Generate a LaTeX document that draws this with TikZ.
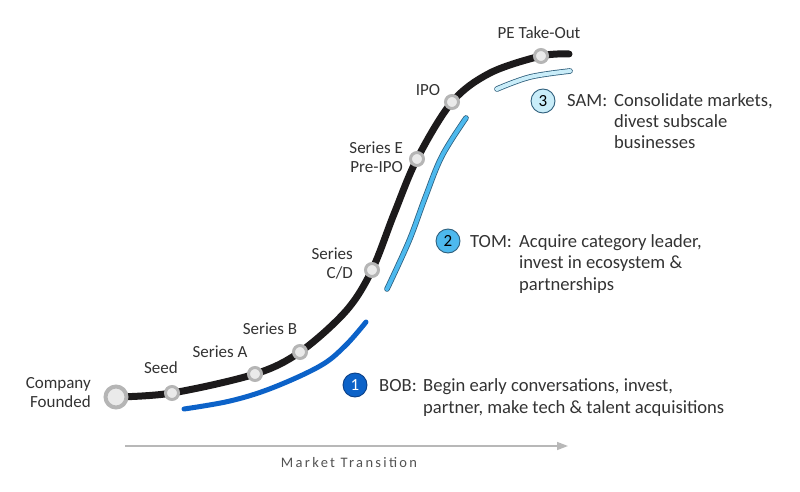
\documentclass[tikz,border=0pt]{standalone}
\usepackage{fontspec}
\setmainfont{Carlito}
\newfontfamily\mtfont[LetterSpace=16]{Carlito}
\usetikzlibrary{arrows.meta}
\definecolor{txt}{HTML}{333333}
\definecolor{ring}{HTML}{B5B5B5}
\definecolor{ringfill}{HTML}{EAEAEA}
\definecolor{curveblack}{HTML}{1C1A1B}
\definecolor{bobblue}{HTML}{0C62C8}
\definecolor{bobedge}{HTML}{0A3F86}
\definecolor{tomblue}{HTML}{4DB9EE}
\definecolor{samblue}{HTML}{C9EDF9}
\definecolor{edgeblue}{HTML}{2F5F7C}
\definecolor{axisgray}{HTML}{B8B8B8}
\tikzset{
  stop/.style={circle, draw=ring, fill=ringfill, line width=3pt, minimum size=13pt, inner sep=0pt},
  bigstop/.style={circle, draw=ring, fill=ringfill, line width=4pt, minimum size=21pt, inner sep=0pt},
  lbl/.style={text=txt, font=\fontsize{17}{19}\selectfont, inner sep=0pt, align=center},
  rlbl/.style={lbl, align=right, anchor=east},
  numc/.style={circle, minimum size=24pt, inner sep=0pt, line width=0.9pt, font=\fontsize{17}{19}\selectfont},
  head/.style={text=txt, font=\fontsize{18.6}{22}\selectfont, inner sep=0pt, anchor=base west},
  body/.style={head},
}
\begin{document}
\begin{tikzpicture}[x=1pt, y=-1pt]
\useasboundingbox (0,0) rectangle (800,492);
% stops
\coordinate (cf) at (116,397);
\coordinate (sd) at (172,393);
\coordinate (sa) at (255,374);
\coordinate (sb) at (300,352);
\coordinate (scd) at (372,270);
\coordinate (se) at (417,159);
\coordinate (ipo) at (452,102);
\coordinate (pe) at (541,56);
\coordinate (end) at (569,54);
% main curve
\draw[curveblack, line width=7pt, line cap=round] plot[smooth, tension=0.55] coordinates {
  (cf) (sd) (sa) (sb) (346,311) (scd) (394,214) (se) (ipo) (490,73) (pe) (end)};
% blue curves
\draw[bobblue, line width=5pt, line cap=round] plot[smooth, tension=0.6] coordinates {
  (184,409) (230,401) (272,388) (320,366) (345,346) (366,322)};
\draw[edgeblue, line width=0.8pt, double=tomblue, double distance=4pt, line cap=round] plot[smooth, tension=0.6] coordinates {
  (387,289) (409,241) (425,198) (442,156) (466,118)};
\draw[edgeblue, line width=0.8pt, double=samblue, double distance=4pt, line cap=round] plot[smooth, tension=0.6] coordinates {
  (497,89) (530,77) (570,71)};
% stop circles
\node[bigstop] (ncf) at (cf) {};
\node[stop] (nsd) at (sd) {};
\node[stop] (nsa) at (sa) {};
\node[stop] (nsb) at (sb) {};
\node[stop] (nscd) at (scd) {};
\node[stop] (nse) at (se) {};
\node[stop] (nipo) at (ipo) {};
\node[stop] (npe) at (pe) {};
% stop labels
\node[rlbl] (tcf) at (91,393) {Company\\Founded};
\node[lbl] (tsd) at (161,368) {Seed};
\node[lbl] (tsa) at (220,352) {Series A};
\node[lbl] (tsb) at (270,329) {Series B};
\node[rlbl] (tscd) at (353,264) {Series\\C/D};
\node[rlbl] (tse) at (403,157) {Series E\\Pre-IPO};
\node[lbl] (tipo) at (428,90) {IPO};
\node[lbl] (tpe) at (539,33) {PE Take-Out};
% numbered markers
\node[numc, fill=bobblue, draw=bobedge, text=white] (n1) at (355,385) {1};
\node[numc, fill=tomblue, draw=edgeblue, text=black] (n2) at (448,241) {2};
\node[numc, fill=samblue, draw=edgeblue, text=black] (n3) at (543,101) {3};
% descriptions
\node[head] (h1) at (379,391) {BOB:};
\node[body] (b1) at (423,391) {\begin{tabular}[t]{@{}l@{}}Begin early conversations, invest,\\partner, make tech \& talent acquisitions\end{tabular}};
\node[head, font=\fontsize{18.6}{21.5}\selectfont] (h2) at (470,247) {TOM:};
\node[body, font=\fontsize{18.6}{21.5}\selectfont] (b2) at (519,247) {\begin{tabular}[t]{@{}l@{}}Acquire category leader,\\invest in ecosystem \&\\partnerships\end{tabular}};
\node[head, font=\fontsize{18.6}{20.5}\selectfont] (h3) at (567,107) {SAM:};
\node[body, font=\fontsize{18.6}{20.5}\selectfont] (b3) at (614,107) {\begin{tabular}[t]{@{}l@{}}Consolidate markets,\\divest subscale\\businesses\end{tabular}};
% axis
\coordinate (ax0) at (125,446);
\coordinate (ax1) at (568,446);
\draw[axisgray, line width=1.5pt, -{Triangle[length=11pt, width=8pt]}] (ax0) -- (ax1);
\node[text=txt!85, font=\mtfont\fontsize{14.5}{16}\selectfont, inner sep=0pt] (mt) at (349,463) {Market Transition};
\end{tikzpicture}
\end{document}
